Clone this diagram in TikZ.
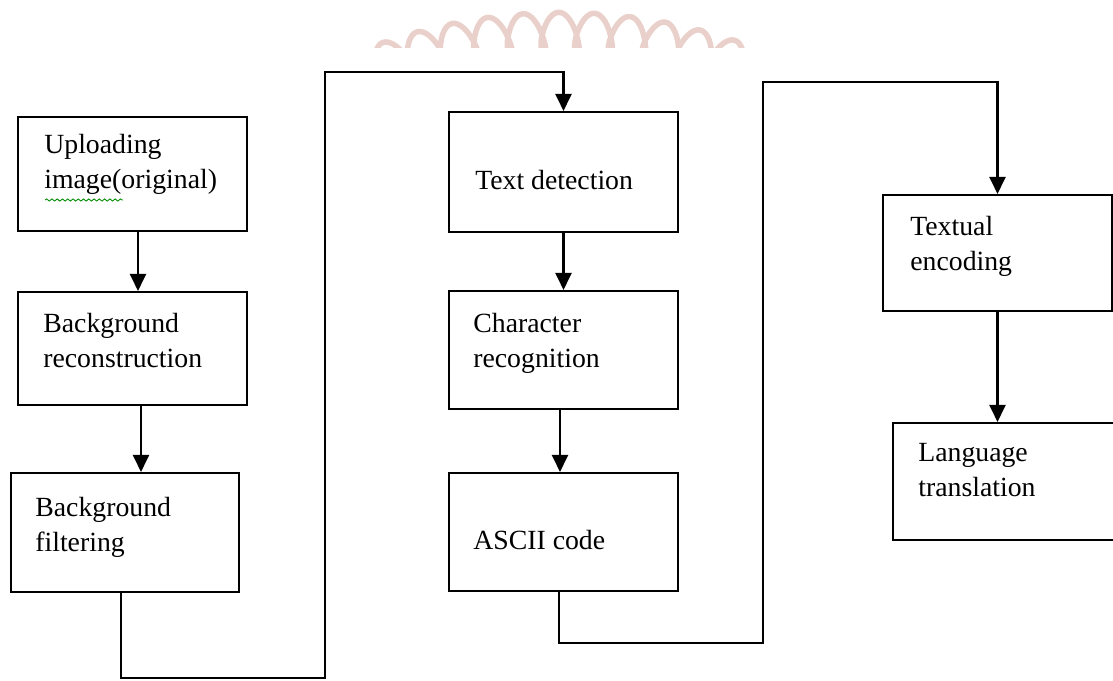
\documentclass[tikz,border=0pt]{standalone}
\usepackage{fontspec}
\setmainfont{Liberation Serif}
\usetikzlibrary{arrows.meta}
\usetikzlibrary{decorations.pathmorphing}

\definecolor{wmpink}{RGB}{234,208,202}

\begin{document}
\begin{tikzpicture}[x=0.02cm, y=-0.02cm,
  box/.style={draw, line width=1.2pt, inner sep=0pt, minimum width=4.58cm},
  lbl/.style={anchor=north west, inner sep=0pt, align=left, font=\fontsize{15.8}{19.8}\selectfont},
  arr/.style={line width=1.2pt, -{Triangle[length=0.34cm, width=0.32cm]}}]

\useasboundingbox (0,0) rectangle (1113,680);
\clip (0,0) rectangle (1113,680);

% faint seal at the top
\begin{scope}
\clip (360,0) rectangle (770,47);
\draw[wmpink, line width=0.11cm, decorate, decoration={coil, amplitude=0.55cm, segment length=0.68cm, aspect=0.35}]
 (562,560) ++(111:10.4cm) arc[start angle=111, end angle=69, radius=10.4cm];
\end{scope}

% first column
\node[box, minimum height=2.28cm] (up) at (132.5,174) {};
\node[lbl] (up-t) at (44,134) {Uploading\\image(original)};
\draw[green!55!black, line width=0.5pt, decorate, decoration={snake, amplitude=0.6pt, segment length=3pt}] (45,200) -- (123,200);

\node[box, minimum height=2.26cm] (rec) at (132.5,348.5) {};
\node[lbl] (rec-t) at (43,313) {Background\\reconstruction};

\node[box, minimum width=4.56cm, minimum height=2.38cm] (filt) at (125,532.5) {};
\node[lbl] (filt-t) at (35,497) {Background\\filtering};

% second column
\node[box, minimum height=2.4cm] (det) at (563.5,172) {};
\node[lbl] (det-t) at (475,170) {Text detection};

\node[box, minimum height=2.36cm] (chr) at (563.5,350) {};
\node[lbl] (chr-t) at (473,313) {Character\\recognition};

\node[box, minimum height=2.36cm] (asc) at (563.5,532) {};
\node[lbl] (asc-t) at (473,530) {ASCII code};

% third column
\node[box, minimum height=2.32cm] (enc) at (997.5,253) {};
\node[lbl] (enc-t) at (910,216) {Textual\\encoding};

\node[box, minimum width=4.64cm, minimum height=2.34cm] (lang) at (1009,481.5) {};
\node[lbl] (lang-t) at (918,443) {Language\\translation};

% corners of the long links
\coordinate (lowA) at (325,678);
\coordinate (topA) at (325,72);
\coordinate (lowB) at (763,643);
\coordinate (topB) at (763,82);

\draw[arr] ([xshift=0.11cm]up.south) -- ([xshift=0.11cm]up.south |- rec.north);
\draw[arr] ([xshift=0.17cm]rec.south) -- ([xshift=0.17cm]rec.south |- filt.north);
\draw[arr] ([xshift=-0.08cm]filt.south) |- (lowA) -- (topA) -| (det.north);

\draw[arr] (det.south) -- (chr.north);
\draw[arr] ([xshift=-0.07cm]chr.south) -- ([xshift=-0.07cm]chr.south |- asc.north);
\draw[arr] ([xshift=-0.09cm]asc.south) |- (lowB) -- (topB) -| (enc.north);

\draw[arr] (enc.south) -- (enc.south |- lang.north);

\end{tikzpicture}
\end{document}
